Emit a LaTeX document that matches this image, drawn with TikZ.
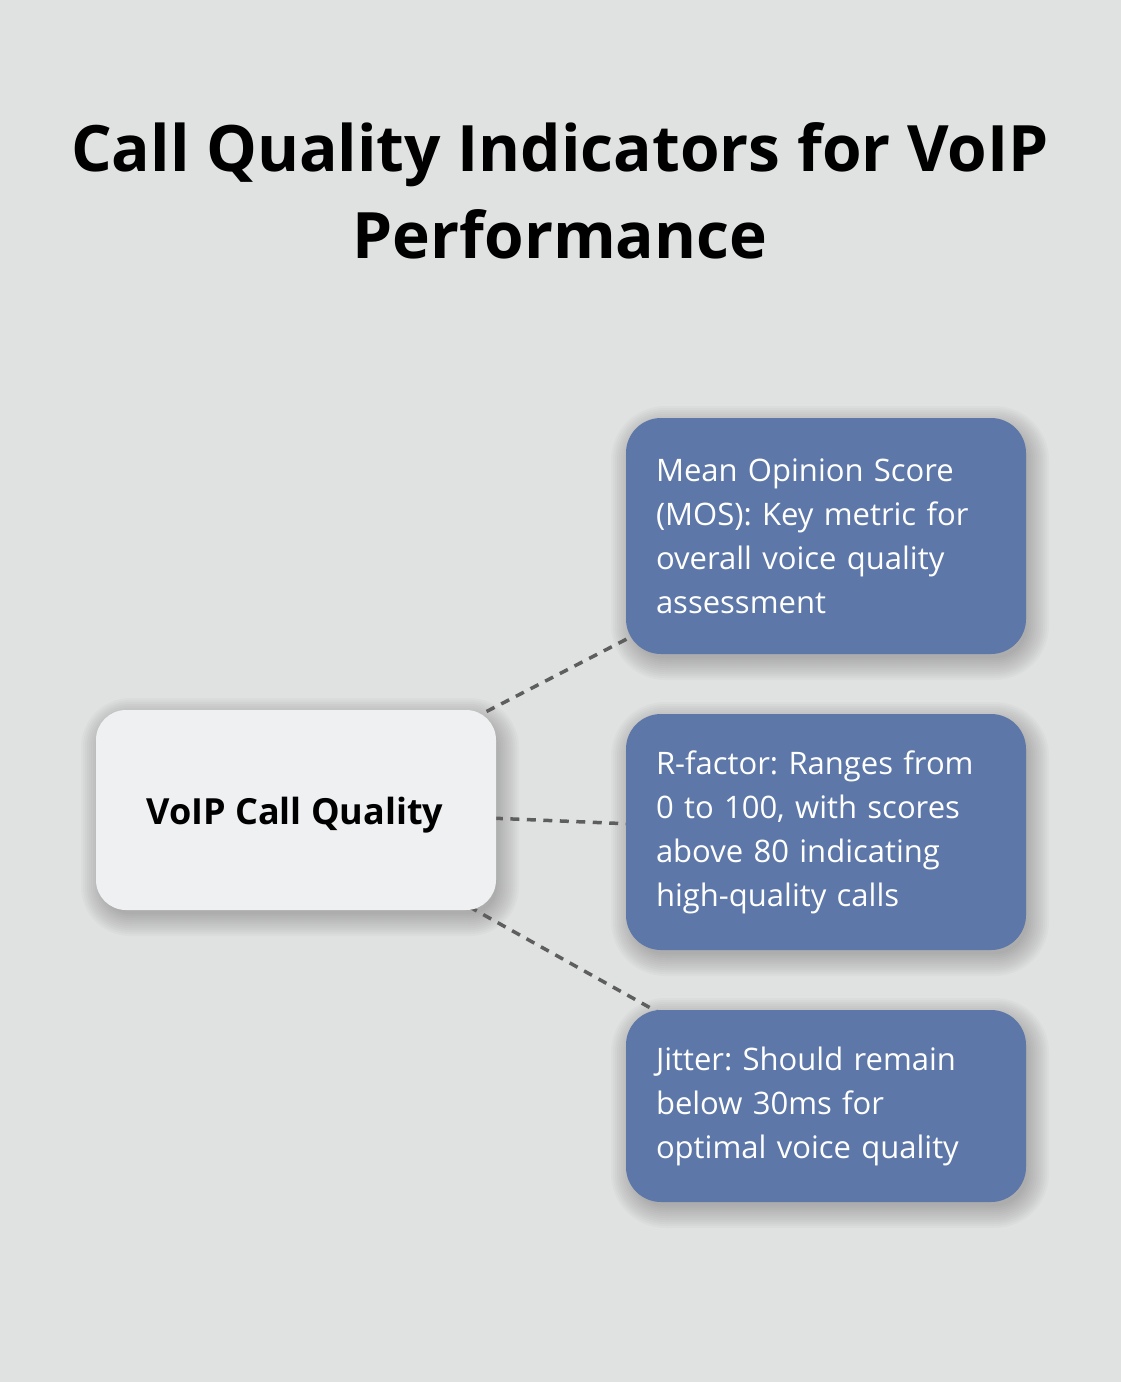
\documentclass[tikz,border=0pt]{standalone}
\usepackage{fontspec}
\setmainfont{Open Sans}
\frenchspacing
\definecolor{bgc}{HTML}{E0E2E1}
\definecolor{bluebox}{HTML}{5C77A8}
\definecolor{lightbox}{HTML}{EFF0F2}
\definecolor{dashc}{HTML}{5E5E5E}
\tikzset{
  titletext/.style={anchor=base, font=\fontsize{64}{88}\selectfont\bfseries, text=black, inner sep=0},
  shadelayer/.style={fill=black, opacity=0.02},
  centerbox/.style={rectangle, rounded corners=30pt, fill=lightbox, minimum width=400pt, minimum height=200pt, inner sep=0},
  centertext/.style={anchor=base, inner sep=0, font=\fontsize{36}{44}\selectfont\bfseries, text=black},
  infobox/.style={rectangle, rounded corners=35pt, fill=bluebox, minimum width=400pt, inner sep=0, text width=340pt, align=left,
    font=\fontsize{31}{44}\selectfont, text=white},
  link/.style={draw=dashc, line width=3.5pt, dash pattern=on 9pt off 7.5pt}
}
% soft shadow: #1 left, #2 top, #3 right, #4 bottom, #5 corner radius
\newcommand\boxshade[5]{%
  \foreach \s in {-3,-1,...,19}{%
    \pgfmathsetmacro\rr{max(#5+\s,1)}%
    \fill[shadelayer, rounded corners=\rr pt] ({#1+4-\s},{#2-7+\s}) rectangle ({#3+4+\s},{#4-7-\s});
  }%
}
\begin{document}
\begin{tikzpicture}[x=1pt,y=1pt]
\useasboundingbox (0,0) rectangle (1120,-1382);
\fill[bgc] (-3,3) rectangle (1123,-1385);
\node[titletext] (t1) at (560,-171) {Call Quality Indicators for VoIP};
\node[titletext] (t2) at (560,-258) {Performance};
% shadows
\boxshade{96}{-710}{496}{-910}{30}
\boxshade{626}{-418}{1026}{-654}{35}
\boxshade{626}{-714}{1026}{-950}{35}
\boxshade{626}{-1010}{1026}{-1202}{35}
% connectors drawn first (behind boxes)
\coordinate (cc) at (296,-810);
\coordinate (c1) at (826,-536);
\coordinate (c2) at (826,-832);
\coordinate (c3) at (826,-1106);
\draw[link] (cc) -- (c1);
\draw[link] (cc) -- (c2);
\draw[link] (cc) -- (c3);
\node[centerbox] (center) at (cc) {};
\node[centertext] (centerlabel) at (295,-824) {VoIP Call Quality};
\node[infobox, minimum height=236pt] (mos) at (c1) {Mean Opinion Score\\(MOS): Key metric for\\overall voice quality\\assessment};
\node[infobox, minimum height=236pt] (rf) at (c2) {R-factor: Ranges from\\0 to 100, with scores\\above 80 indicating\\high-quality calls};
\node[infobox, minimum height=192pt] (jit) at (c3) {Jitter: Should remain\\below 30ms for\\optimal voice quality};
\end{tikzpicture}
\end{document}
